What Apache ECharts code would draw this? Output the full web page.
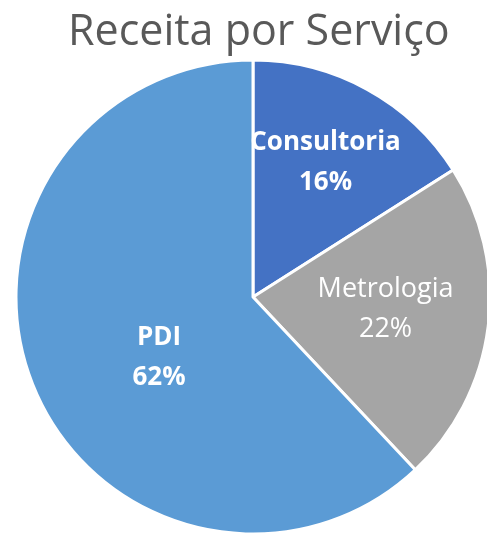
<!DOCTYPE html>
<html>
<head>
<meta charset="utf-8">
<script src="https://cdn.jsdelivr.net/npm/echarts@6/dist/echarts.min.js"></script>
<style>
  html, body { margin: 0; padding: 0; background: #fff; }
  #chart { width: 487px; height: 534px; }
</style>
</head>
<body>
<div id="chart"></div>
<script>
// dados do gráfico
var categorias = ["Consultoria", "Metrologia", "PDI"];
var valores = [16, 22, 62];
var cores = ["#4472C4", "#A5A5A5", "#5B9BD5"];

var estilosRotulo = [
  { fontWeight: "bold", fontSize: 26, offset: [14, -28] },
  { fontWeight: "normal", fontSize: 27, offset: [12, -3] },
  { fontWeight: "bold", fontSize: 26, offset: [19, 16] }
];

var dados = categorias.map(function (nome, i) {
  return {
    name: nome,
    value: valores[i],
    itemStyle: { color: cores[i] },
    label: estilosRotulo[i]
  };
});

var myChart = echarts.init(document.getElementById("chart"));
myChart.setOption({
  animation: false,
  title: {
    text: "Receita por Serviço",
    left: 63,
    top: 6,
    textStyle: {
      fontFamily: "Open Sans",
      fontSize: 43,
      fontWeight: "normal",
      color: "#595959"
    }
  },
  series: [
    {
      type: "pie",
      center: [253, 297],
      radius: 237,
      startAngle: 90,
      clockwise: true,
      itemStyle: { borderColor: "#fff", borderWidth: 3 },
      label: {
        show: true,
        position: "inside",
        formatter: "{b}\n{c}%",
        color: "#fff",
        fontFamily: "Open Sans",
        fontSize: 24,
        lineHeight: 40
      },
      labelLine: { show: false },
      emphasis: { disabled: true },
      data: dados
    }
  ]
});
</script>
</body>
</html>
